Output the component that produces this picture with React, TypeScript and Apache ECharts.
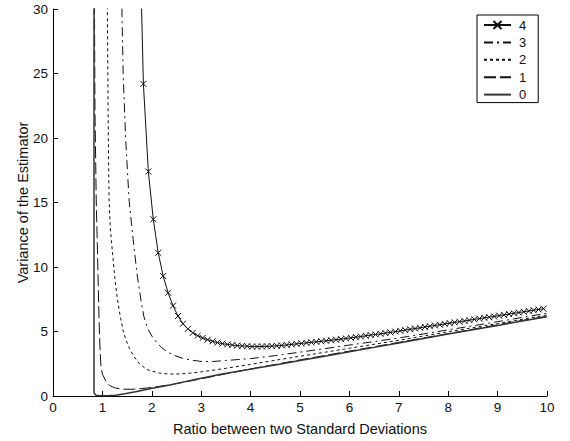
import React, { useEffect, useRef } from "react";
import * as echarts from "echarts";

// Curve "4": markers every 0.1 starting at x = 1.73
const x4Start = 1.73;
const x4Step = 0.1;
const curve4Y = [
  40, 24.2, 17.4, 13.7, 11.1, 9.3, 8.0, 7.0, 6.2, 5.6,
  5.2, 4.9, 4.68, 4.5, 4.36, 4.24, 4.14, 4.06, 4.0, 3.95,
  3.91, 3.88, 3.86, 3.83, 3.83, 3.84, 3.85, 3.87, 3.89, 3.92,
  3.96, 4.0, 4.04, 4.08, 4.12, 4.16, 4.2, 4.24, 4.28, 4.32,
  4.37, 4.41, 4.46, 4.51, 4.56, 4.61, 4.67, 4.72, 4.77, 4.82,
  4.88, 4.93, 4.99, 5.05, 5.11, 5.17, 5.23, 5.29, 5.35, 5.41,
  5.47, 5.53, 5.59, 5.65, 5.71, 5.76, 5.82, 5.88, 5.94, 6.0,
  6.06, 6.11, 6.17, 6.23, 6.29, 6.35, 6.41, 6.47, 6.53, 6.59,
  6.65, 6.71, 6.77,
];

const curve3: [number, number][] = [
  [1.38, 33], [1.42, 25], [1.47, 20], [1.54, 15.2], [1.62, 12.2], [1.7, 9.5],
  [1.78, 7.44], [1.84, 6.15], [1.92, 5.2], [2.01, 4.6], [2.11, 4.1], [2.2, 3.75],
  [2.31, 3.43], [2.45, 3.15], [2.62, 2.93], [2.8, 2.78], [3.02, 2.67], [3.25, 2.68],
  [3.49, 2.75], [4.0, 2.9], [4.5, 3.13], [5, 3.4], [5.5, 3.67], [6, 3.95],
  [6.5, 4.22], [7, 4.5], [7.5, 4.81], [8, 5.13], [8.5, 5.44], [9, 5.76],
  [9.5, 6.09], [10, 6.42],
];

const curve2: [number, number][] = [
  [1.095, 33], [1.11, 25], [1.12, 20], [1.135, 15.2], [1.16, 13], [1.2, 11.3],
  [1.25, 9.2], [1.3, 7.6], [1.36, 6.2], [1.43, 4.9], [1.52, 3.9], [1.63, 3.1],
  [1.75, 2.5], [1.9, 2.05], [2.15, 1.78], [2.35, 1.7], [2.55, 1.71], [2.8, 1.78],
  [3.02, 1.88], [3.49, 2.14], [4.0, 2.45], [4.5, 2.77], [5, 3.08], [5.5, 3.39],
  [6, 3.7], [6.5, 4.01], [7, 4.32], [7.5, 4.65], [8, 4.98], [8.5, 5.3],
  [9, 5.62], [9.5, 5.95], [10, 6.28],
];

const curve1: [number, number][] = [
  [0.835, 33], [0.85, 22], [0.875, 15.2], [0.9, 11.3], [0.93, 6.2], [0.95, 3.8],
  [0.97, 2.3], [1.0, 1.7], [1.07, 1.15], [1.15, 0.8], [1.25, 0.63], [1.4, 0.53],
  [1.6, 0.52], [1.8, 0.58], [2.0, 0.66], [2.3, 0.83], [2.6, 1.03], [3.0, 1.33],
  [3.5, 1.72], [4.0, 2.1], [4.5, 2.45], [5, 2.8], [5.5, 3.14], [6, 3.48],
  [6.5, 3.82], [7, 4.16], [7.5, 4.5], [8, 4.84], [8.5, 5.18], [9, 5.52],
  [9.5, 5.86], [10, 6.18],
];

const curve0: [number, number][] = [
  [0.83, 33], [0.83, 0.25], [0.87, 0.05], [0.95, 0.02], [1.1, 0.02], [1.27, 0.06],
  [1.45, 0.18], [1.67, 0.33], [2.01, 0.6], [2.42, 0.9], [2.9, 1.3], [3.4, 1.68],
  [3.9, 2.02], [4.5, 2.4], [5, 2.75], [5.5, 3.09], [6, 3.43], [6.5, 3.77],
  [7, 4.1], [7.5, 4.45], [8, 4.8], [8.5, 5.13], [9, 5.47], [9.5, 5.81],
  [10, 6.15],
];

const seriesNames = ["4", "3", "2", "1", "0"];
const xTicks = { min: 0, max: 10, interval: 1 };
const yTicks = { min: 0, max: 30, interval: 5 };

const FONT = "Liberation Sans, Arial, sans-serif";
const INK = "#111";

export default function App() {
  const ref = useRef<HTMLDivElement>(null);

  useEffect(() => {
    if (!ref.current) return;
    const chart = echarts.init(ref.current, undefined, { renderer: "svg" });

    const curve4 = curve4Y.map((y, i) => [
      +(x4Start + i * x4Step).toFixed(2),
      y,
    ]);

    const base = {
      type: "line" as const,
      clip: true,
      showSymbol: false,
      symbol: "none",
      smooth: false,
      color: INK,
    };

    const hiddenMarker = { color: "transparent", borderWidth: 0, opacity: 0 };

    chart.setOption({
      animation: false,
      backgroundColor: "#fff",
      textStyle: { fontFamily: FONT },
      grid: { left: 53, top: 9, right: 23, bottom: 45, containLabel: false },
      legend: {
        orient: "vertical",
        left: 477,
        top: 15,
        padding: [3, 12, 1, 6],
        itemWidth: 27,
        itemHeight: 10,
        itemGap: 3.4,
        borderColor: "#000",
        borderWidth: 1,
        backgroundColor: "#fff",
        data: seriesNames.map((n) =>
          n === "4" ? { name: n } : { name: n, itemStyle: hiddenMarker }
        ),
        textStyle: {
          fontFamily: FONT,
          fontSize: 13,
          lineHeight: 14,
          color: INK,
          padding: [0, 0, 0, 3],
        },
      },
      xAxis: {
        type: "value",
        min: xTicks.min,
        max: xTicks.max,
        interval: xTicks.interval,
        name: "Ratio between two Standard Deviations",
        nameLocation: "middle",
        nameGap: 25,
        nameMoveOverlap: false,
        nameTextStyle: { fontFamily: FONT, fontSize: 14.5, color: INK },
        axisLine: { show: true, onZero: false, lineStyle: { color: "#000", width: 1 } },
        axisTick: { show: true, inside: true, length: 5, lineStyle: { color: "#000" } },
        axisLabel: { fontFamily: FONT, fontSize: 13.5, color: INK, margin: 4 },
        splitLine: { show: false },
      },
      yAxis: {
        type: "value",
        min: yTicks.min,
        max: yTicks.max,
        interval: yTicks.interval,
        name: "Variance of the Estimator",
        nameLocation: "middle",
        nameRotate: 90,
        nameGap: 23,
        nameMoveOverlap: false,
        nameTextStyle: { fontFamily: FONT, fontSize: 14.5, color: INK },
        axisLine: { show: true, onZero: false, lineStyle: { color: "#000", width: 1 } },
        axisTick: { show: true, inside: true, length: 5, lineStyle: { color: "#000" } },
        axisLabel: { fontFamily: FONT, fontSize: 13.5, color: INK, margin: 5 },
        splitLine: { show: false },
      },
      series: [
        {
          ...base,
          name: "4",
          data: curve4,
          showSymbol: true,
          symbol: "path://M0,0L10,10M10,0L0,10",
          symbolSize: 6,
          itemStyle: { color: "none", borderColor: INK, borderWidth: 1 },
          lineStyle: { color: INK, width: 1 },
        },
        {
          ...base,
          name: "3",
          data: curve3,
          lineStyle: { color: INK, width: 1, type: [9, 4, 2, 4] },
        },
        {
          ...base,
          name: "2",
          data: curve2,
          lineStyle: { color: INK, width: 1, type: [3, 3] },
        },
        {
          ...base,
          name: "1",
          data: curve1,
          lineStyle: { color: INK, width: 1, type: [12, 4] },
        },
        {
          ...base,
          name: "0",
          data: curve0,
          lineStyle: { color: "#333", width: 1.5 },
        },
      ],
    });

    return () => chart.dispose();
  }, []);

  return (
    <div
      ref={ref}
      style={{ position: "absolute", left: 0, top: 0, width: 570, height: 441 }}
    />
  );
}
